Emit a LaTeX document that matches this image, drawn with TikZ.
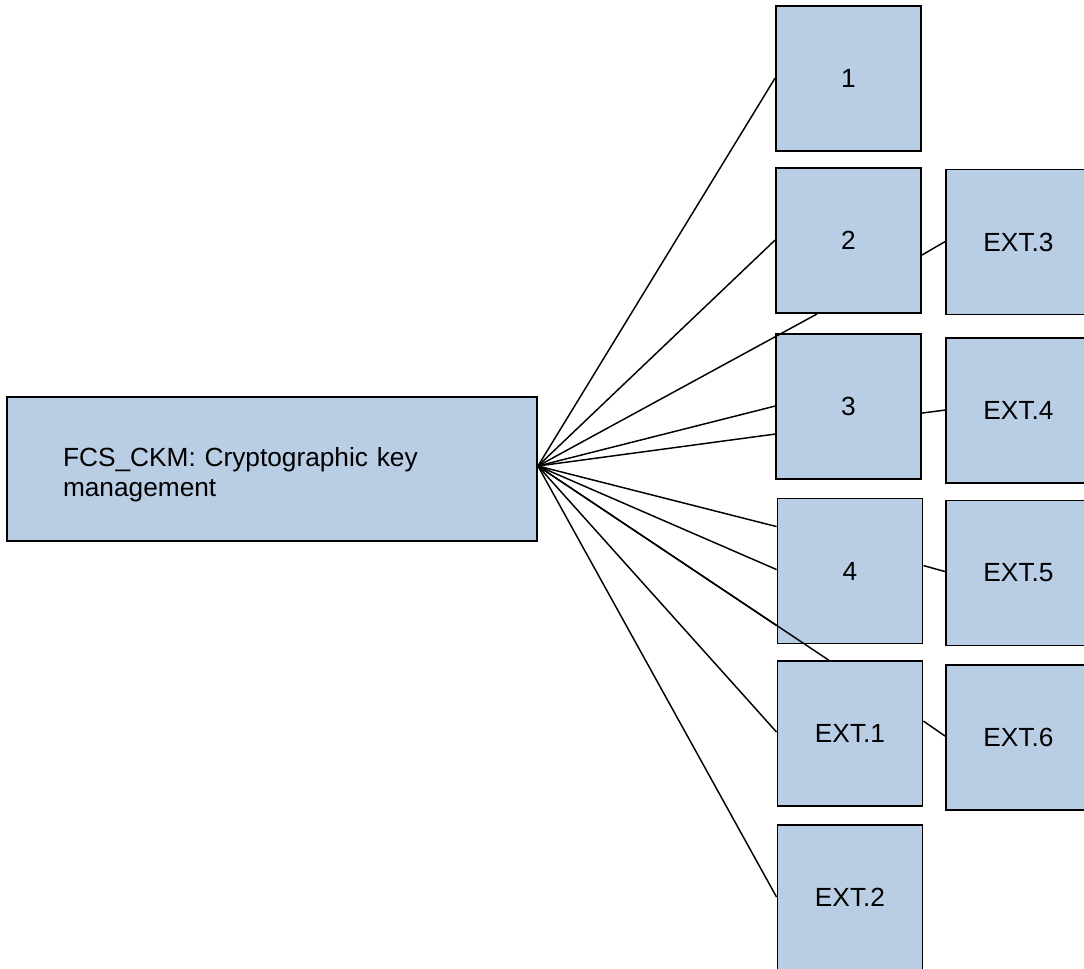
\documentclass[tikz,border=0pt]{standalone}
\usepackage{fontspec}
\setmainfont{Liberation Sans}
\usetikzlibrary{calc}
\definecolor{boxfill}{RGB}{185,205,229}
\tikzset{
  box/.style={draw=black, line width=1.4pt, fill=boxfill, rectangle,
    minimum width=108.75pt, minimum height=108.75pt, inner sep=0pt,
    font=\fontsize{19.7pt}{22.5pt}\selectfont},
  link/.style={draw=black, line width=1.1pt},
}
\begin{document}
\begin{tikzpicture}[x=0.75pt, y=-0.75pt]
  \useasboundingbox (0,0) rectangle (1084,968);
  \clip (0,0) rectangle (1084,968);

  % root element
  \node[box, minimum width=397.5pt, minimum height=108pt, text width=313.5pt, align=left]
    (main) at (272,469) {\rule{0pt}{23pt}FCS\_CKM: Cryptographic key\\management};

  % components
  \node[box] (b1) at (848.5,78.5)  {1};
  \node[box] (b2) at (848.5,240.5) {2};
  \node[box] (b3) at (848.5,406.5) {3};
  \node[box] (b4) at (850,571)     {4};
  \node[box] (x1) at (850,733.5)   {EXT.1};
  \node[box] (x2) at (850,897.5)   {EXT.2};

  % extended components
  \node[box] (e3) at (1018.5,242)   {EXT.3};
  \node[box] (e4) at (1018.5,410.5) {EXT.4};
  \node[box] (e5) at (1018.5,573)   {EXT.5};
  \node[box] (e6) at (1018.5,737.5) {EXT.6};

  % fan-out point on the root's right side
  \coordinate (hub) at ($(main.east)+(0,-3)$);

  % links from the root
  \draw[link] (hub) -- ($(b1.north west)+(0,73)$);
  \draw[link] (hub) -- ($(b2.north west)+(0,73)$);
  \draw[link] (hub) -- ($(b2.south west)+(42,0)$);
  \draw[link] (hub) -- ($(b3.north west)+(0,73)$);
  \draw[link] (hub) -- ($(b3.north west)+(0,101)$);
  \draw[link] (hub) -- ($(b4.north west)+(0,29)$);
  \draw[link] (hub) -- ($(b4.north west)+(0,72)$);
  \draw[link] (hub) -- ($(b4.north west)+(0,128)$);
  \draw[link] (hub) -- ($(x1.north west)+(52,0)$);
  \draw[link] (hub) -- ($(x1.north west)+(0,72)$);
  \draw[link] (hub) -- ($(x2.north west)+(0,73)$);

  % links to the extensions
  \draw[link] ($(b2.north east)+(0,88)$) -- ($(e3.north west)+(0,73)$);
  \draw[link] ($(b3.north east)+(0,80)$) -- ($(e4.north west)+(0,73)$);
  \draw[link] ($(b4.north east)+(0,68)$) -- ($(e5.north west)+(0,72)$);
  \draw[link] ($(x1.north east)+(0,61)$) -- ($(e6.north west)+(0,72)$);
\end{tikzpicture}
\end{document}
